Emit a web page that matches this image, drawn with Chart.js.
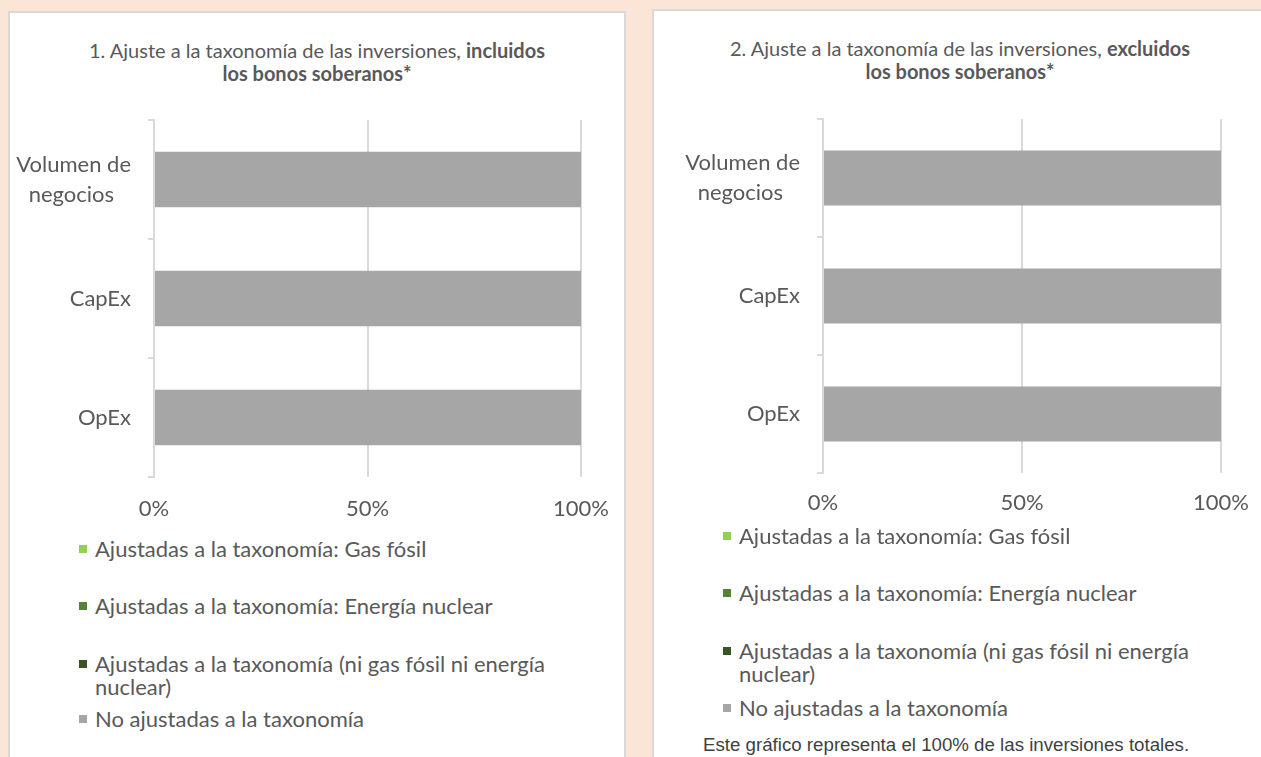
<!DOCTYPE html>
<html>
<head>
<meta charset="utf-8">
<script src="https://cdn.jsdelivr.net/npm/chart.js@4.4.1/dist/chart.umd.min.js"></script>
<style>
    body { margin: 0; width: 1261px; height: 757px; overflow: hidden; background: #fbe5d6; font-family: Lato, "Open Sans", sans-serif; color: #595959; position: relative; }
    .panel { position: absolute; background: #fff; border: 2px solid #d9d9d9; box-sizing: border-box; }
    #panel-1 { left: 8px; top: 11px; width: 618px; height: 770px; }
    #panel-2 { left: 652px; top: 9px; width: 640px; height: 770px; }
    .title { position: absolute; text-align: center; font-size: 20px; line-height: 23px; white-space: nowrap; }
    canvas { position: absolute; }
    .legend { position: absolute; font-size: 22px; line-height: 23px; }
    .legend .item { position: absolute; left: 0; padding-left: 16px; width: 490px; }
    .legend .sw { position: absolute; left: 0; top: 8px; width: 8px; height: 8px; }
    .note { position: absolute; left: 703px; top: 734px; font-family: "Liberation Sans", Arial, sans-serif; font-size: 18.7px; color: #3f3f3f; white-space: nowrap; }
</style>
</head>
<body>
<div class="panel" id="panel-1"></div>
<div class="panel" id="panel-2"></div>

<div class="title" style="left:17px; top:39px; width:600px;">1. Ajuste a la taxonomía de las inversiones, <b>incluidos</b><br><b>los bonos soberanos*</b></div>
<div class="title" style="left:660px; top:37px; width:600px;">2. Ajuste a la taxonomía de las inversiones, <b>excluidos</b><br><b>los bonos soberanos*</b></div>

<canvas id="chart-1" width="618" height="442" style="left:10px; top:88px;"></canvas>
<canvas id="chart-2" width="611" height="443" style="left:655px; top:87px;"></canvas>

<div class="legend" id="legend-1" style="left:79px; top:0;"></div>
<div class="legend" id="legend-2" style="left:723px; top:0;"></div>

<div class="note">Este gráfico representa el 100% de las inversiones totales.</div>

<script>
// categorias (la segunda linea lleva espacios para centrarla como en el original)
const categories = [['Volumen de', 'negocios\u00a0\u00a0\u00a0'], 'CapEx', 'OpEx'];
const seriesNames = [
    'Ajustadas a la taxonomía: Gas fósil',
    'Ajustadas a la taxonomía: Energía nuclear',
    'Ajustadas a la taxonomía (ni gas fósil ni energía nuclear)',
    'No ajustadas a la taxonomía'
];
const xTickValues = [0, 50, 100];

// grafico 1: incluidos los bonos soberanos
const gasFosil1 = [0, 0, 0];
const nuclear1 = [0, 0, 0];
const otras1 = [0, 0, 0];
const noAjustadas1 = [100, 100, 100];

// grafico 2: excluidos los bonos soberanos
const gasFosil2 = [0, 0, 0];
const nuclear2 = [0, 0, 0];
const otras2 = [0, 0, 0];
const noAjustadas2 = [100, 100, 100];

const seriesColors = ['#92d050', '#548235', '#375623', '#a6a6a6'];
const gridColor = '#d9d9d9';
const textColor = '#595959';
const tickFont = { family: 'Lato', size: 22 };

function buildChart(canvasId, series, lay) {
    const ctx = document.getElementById(canvasId).getContext('2d');
    return new Chart(ctx, {
        type: 'bar',
        data: {
            labels: categories,
            datasets: series.map((values, i) => ({
                label: seriesNames[i],
                data: values,
                backgroundColor: seriesColors[i],
                borderWidth: 0,
                barPercentage: 0.465,
                categoryPercentage: 1
            }))
        },
        options: {
            indexAxis: 'y',
            responsive: false,
            animation: false,
            layout: { padding: { top: 30, right: 0, left: 0, bottom: 0 } },
            plugins: { legend: { display: false }, tooltip: { enabled: false } },
            scales: {
                x: {
                    stacked: true,
                    min: 0,
                    max: 100,
                    afterBuildTicks: (s) => { s.ticks = xTickValues.map((v) => ({ value: v })); },
                    afterFit: (s) => { s.height = lay.xHeight; },
                    border: { display: false },
                    grid: { color: gridColor, lineWidth: 2, drawTicks: false },
                    ticks: { padding: lay.xPad, color: textColor, font: tickFont, callback: (v) => v + '%' }
                },
                y: {
                    stacked: true,
                    afterFit: (s) => { s.width = lay.yWidth; },
                    border: { display: true, color: gridColor, width: 2 },
                    grid: { offset: true, drawOnChartArea: false, color: gridColor, lineWidth: 2, tickLength: 6 },
                    ticks: { padding: 17, color: textColor, font: { family: 'Lato', size: 22, lineHeight: 1.36 } }
                }
            }
        }
    });
}

function buildLegend(elId, tops) {
    const el = document.getElementById(elId);
    el.innerHTML = seriesNames.map((name, i) =>
        `<div class="item" style="top:${tops[i]}px"><span class="sw" style="background:${seriesColors[i]}"></span>${name}</div>`
    ).join('');
}

buildChart('chart-1', [gasFosil1, nuclear1, otras1, noAjustadas1], { yWidth: 144, xHeight: 53, xPad: 19 });
buildChart('chart-2', [gasFosil2, nuclear2, otras2, noAjustadas2], { yWidth: 168, xHeight: 57, xPad: 17 });

buildLegend('legend-1', [537, 594, 652, 707]);
buildLegend('legend-2', [524, 581, 639, 696]);
</script>
</body>
</html>
